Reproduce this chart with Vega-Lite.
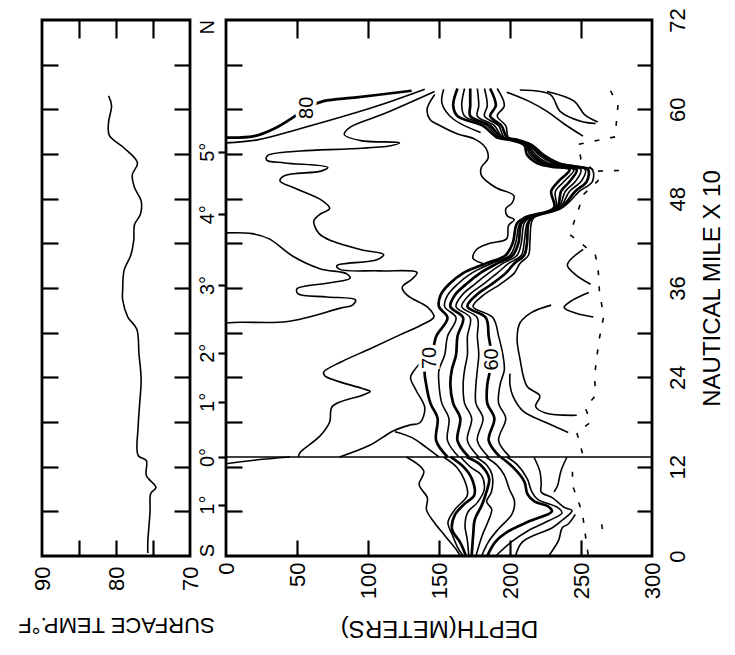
{
  "$schema": "https://vega.github.io/schema/vega-lite/v6.json",
  "background": "white",
  "padding": {"left": 16, "top": 6, "right": 5, "bottom": 5},
  "bounds": "flush",
  "spacing": 36,
  "config": {
    "view": {"stroke": "black", "strokeWidth": 2.8},
    "font": "Liberation Sans",
    "axis": {"grid": false, "domain": false, "tickColor": "black", "tickWidth": 2.2, "labelColor": "black", "titleColor": "black", "labelFontSize": 22, "titleFontSize": 24, "titleFontWeight": "normal", "labelFont": "Liberation Sans", "titleFont": "Liberation Sans", "labelOverlap": false, "labelFlush": false}
  },
  "datasets": {
    "sst": [
      {"temp": 81.0, "mile": 61.8}, {"temp": 80.6, "mile": 60.5}, {"temp": 81.0, "mile": 58.3}, {"temp": 80.9, "mile": 56.5},
      {"temp": 78.9, "mile": 54.8}, {"temp": 77.1, "mile": 52.8}, {"temp": 77.8, "mile": 51.2}, {"temp": 77.5, "mile": 49.5},
      {"temp": 76.6, "mile": 47.7}, {"temp": 76.7, "mile": 45.9}, {"temp": 77.5, "mile": 44.5}, {"temp": 77.6, "mile": 42.4},
      {"temp": 78.0, "mile": 40.4}, {"temp": 78.9, "mile": 38.4}, {"temp": 79.1, "mile": 35.7}, {"temp": 79.1, "mile": 34.4},
      {"temp": 78.4, "mile": 32.1}, {"temp": 77.2, "mile": 30.5}, {"temp": 76.9, "mile": 27.2}, {"temp": 76.6, "mile": 23.7},
      {"temp": 76.8, "mile": 20.5}, {"temp": 77.0, "mile": 17.5}, {"temp": 77.0, "mile": 13.5}, {"temp": 75.9, "mile": 12.8},
      {"temp": 75.9, "mile": 10.8}, {"temp": 74.6, "mile": 9.2}, {"temp": 75.3, "mile": 8.4}, {"temp": 75.4, "mile": 5.9},
      {"temp": 75.7, "mile": 1.9}, {"temp": 75.7, "mile": 0.4}
    ],
    "labels": [
      {"label": "80", "d": 57, "m": 60.2},
      {"label": "70", "d": 144, "m": 26.6},
      {"label": "60", "d": 187, "m": 26.4}
    ],
    "iso": [
      {"s": "ZERO", "t": "section", "d": 0, "m": 13.3}, {"s": "ZERO", "t": "section", "d": 300, "m": 13.3},

      {"s": "N1", "t": "major", "d": 0, "m": 56.2}, {"s": "N1", "t": "major", "d": 19.8, "m": 56.4}, {"s": "N1", "t": "major", "d": 33.8, "m": 57.4}, {"s": "N1", "t": "major", "d": 47.8, "m": 59.0}, {"s": "N1", "t": "major", "d": 56.8, "m": 60.2}, {"s": "N1", "t": "major", "d": 68.7, "m": 61.1}, {"s": "N1", "t": "major", "d": 92, "m": 61.6}, {"s": "N1", "t": "major", "d": 130.7, "m": 62.5},

      {"s": "N2", "t": "minor", "d": 0, "m": 55.5}, {"s": "N2", "t": "minor", "d": 22, "m": 55.9}, {"s": "N2", "t": "minor", "d": 52, "m": 57.4}, {"s": "N2", "t": "minor", "d": 87, "m": 59.3}, {"s": "N2", "t": "minor", "d": 115, "m": 61.0}, {"s": "N2", "t": "minor", "d": 140, "m": 62.7},

      {"s": "M", "t": "minor", "d": 146.9, "m": 62.4}, {"s": "M", "t": "minor", "d": 111.2, "m": 59.4}, {"s": "M", "t": "minor", "d": 87.5, "m": 57.6}, {"s": "M", "t": "minor", "d": 83.3, "m": 56.6}, {"s": "M", "t": "minor", "d": 94.7, "m": 55.8}, {"s": "M", "t": "minor", "d": 122.2, "m": 55.5}, {"s": "M", "t": "minor", "d": 115.9, "m": 55.1}, {"s": "M", "t": "minor", "d": 87.8, "m": 54.7}, {"s": "M", "t": "minor", "d": 52.5, "m": 54.4}, {"s": "M", "t": "minor", "d": 29.3, "m": 53.8}, {"s": "M", "t": "minor", "d": 28.6, "m": 53.2}, {"s": "M", "t": "minor", "d": 41.3, "m": 52.8}, {"s": "M", "t": "minor", "d": 71.7, "m": 52.2}, {"s": "M", "t": "minor", "d": 66.9, "m": 51.7}, {"s": "M", "t": "minor", "d": 41.5, "m": 51.1}, {"s": "M", "t": "minor", "d": 38, "m": 50.4}, {"s": "M", "t": "minor", "d": 48.7, "m": 49.4}, {"s": "M", "t": "minor", "d": 67.3, "m": 47.8}, {"s": "M", "t": "minor", "d": 73, "m": 46.7}, {"s": "M", "t": "minor", "d": 65.4, "m": 45.8}, {"s": "M", "t": "minor", "d": 61.8, "m": 45.0}, {"s": "M", "t": "minor", "d": 65.6, "m": 43.3}, {"s": "M", "t": "minor", "d": 74.8, "m": 42.3}, {"s": "M", "t": "minor", "d": 96.1, "m": 41.1}, {"s": "M", "t": "minor", "d": 111, "m": 40.5}, {"s": "M", "t": "minor", "d": 106.2, "m": 39.8}, {"s": "M", "t": "minor", "d": 78, "m": 39.0}, {"s": "M", "t": "minor", "d": 80.2, "m": 38.5}, {"s": "M", "t": "minor", "d": 108.4, "m": 38.3}, {"s": "M", "t": "minor", "d": 134.5, "m": 38.1}, {"s": "M", "t": "minor", "d": 131.1, "m": 37.2}, {"s": "M", "t": "minor", "d": 124.1, "m": 36.1}, {"s": "M", "t": "minor", "d": 127.8, "m": 35.0}, {"s": "M", "t": "minor", "d": 142.1, "m": 33.4}, {"s": "M", "t": "minor", "d": 146.4, "m": 32.1}, {"s": "M", "t": "minor", "d": 137.3, "m": 31.0}, {"s": "M", "t": "minor", "d": 121.3, "m": 29.6}, {"s": "M", "t": "minor", "d": 102.3, "m": 27.9}, {"s": "M", "t": "minor", "d": 81.4, "m": 26.1}, {"s": "M", "t": "minor", "d": 68.8, "m": 24.7}, {"s": "M", "t": "minor", "d": 69.6, "m": 24.2}, {"s": "M", "t": "minor", "d": 95.9, "m": 22.5}, {"s": "M", "t": "minor", "d": 101.5, "m": 22.1}, {"s": "M", "t": "minor", "d": 96, "m": 21.6}, {"s": "M", "t": "minor", "d": 74.9, "m": 20.1}, {"s": "M", "t": "minor", "d": 73, "m": 18.0}, {"s": "M", "t": "minor", "d": 66.1, "m": 16.1}, {"s": "M", "t": "minor", "d": 52.2, "m": 13.9}, {"s": "M", "t": "minor", "d": 51, "m": 13.3},

      {"s": "L4", "t": "minor", "d": 0, "m": 43.4}, {"s": "L4", "t": "minor", "d": 18.3, "m": 43.3}, {"s": "L4", "t": "minor", "d": 30.4, "m": 42.6}, {"s": "L4", "t": "minor", "d": 46.8, "m": 40.3}, {"s": "L4", "t": "minor", "d": 66.1, "m": 38.6}, {"s": "L4", "t": "minor", "d": 85.1, "m": 37.9}, {"s": "L4", "t": "minor", "d": 87.3, "m": 37.3}, {"s": "L4", "t": "minor", "d": 73.3, "m": 36.7}, {"s": "L4", "t": "minor", "d": 50, "m": 35.9}, {"s": "L4", "t": "minor", "d": 50.8, "m": 35.2}, {"s": "L4", "t": "minor", "d": 71.3, "m": 34.8}, {"s": "L4", "t": "minor", "d": 91.2, "m": 34.4}, {"s": "L4", "t": "minor", "d": 89.1, "m": 33.7}, {"s": "L4", "t": "minor", "d": 80.7, "m": 33.3}, {"s": "L4", "t": "minor", "d": 43.5, "m": 31.5}, {"s": "L4", "t": "minor", "d": 10.3, "m": 31.4}, {"s": "L4", "t": "minor", "d": 0, "m": 31.3},

      {"s": "L6", "t": "minor", "d": 80, "m": 13.3}, {"s": "L6", "t": "minor", "d": 101.5, "m": 14.9}, {"s": "L6", "t": "minor", "d": 117.7, "m": 16.8}, {"s": "L6", "t": "minor", "d": 129.6, "m": 17.6}, {"s": "L6", "t": "minor", "d": 136.5, "m": 17.9}, {"s": "L6", "t": "minor", "d": 140, "m": 19.9}, {"s": "L6", "t": "minor", "d": 134, "m": 22.2}, {"s": "L6", "t": "minor", "d": 130, "m": 24.0}, {"s": "L6", "t": "minor", "d": 134, "m": 25.3}, {"s": "L6", "t": "minor", "d": 137, "m": 26.0}, {"s": "L6", "t": "minor", "d": 141, "m": 27.5},

      {"s": "L7", "t": "minor", "d": 150, "m": 13.3}, {"s": "L7", "t": "minor", "d": 141, "m": 14.6}, {"s": "L7", "t": "minor", "d": 131, "m": 15.9}, {"s": "L7", "t": "minor", "d": 119, "m": 16.7},

      {"s": "S0", "t": "minor", "d": 0, "m": 12.4}, {"s": "S0", "t": "minor", "d": 21, "m": 12.9}, {"s": "S0", "t": "minor", "d": 45, "m": 13.3},

      {"s": "C0", "t": "minor", "d": 153.3, "m": 62.7}, {"s": "C0", "t": "minor", "d": 152.1, "m": 60.8}, {"s": "C0", "t": "minor", "d": 160, "m": 58.7}, {"s": "C0", "t": "minor", "d": 179.3, "m": 56.9},

      {"s": "C1", "t": "minor", "d": 147, "m": 62.0}, {"s": "C1", "t": "minor", "d": 141.6, "m": 60.0}, {"s": "C1", "t": "minor", "d": 143.8, "m": 58.6}, {"s": "C1", "t": "minor", "d": 148.8, "m": 58.0}, {"s": "C1", "t": "minor", "d": 163.1, "m": 56.7}, {"s": "C1", "t": "minor", "d": 175.2, "m": 56.0}, {"s": "C1", "t": "minor", "d": 183, "m": 54.8}, {"s": "C1", "t": "minor", "d": 184.5, "m": 53.4}, {"s": "C1", "t": "minor", "d": 179.8, "m": 52.2}, {"s": "C1", "t": "minor", "d": 179.9, "m": 51.1}, {"s": "C1", "t": "minor", "d": 189.9, "m": 49.5}, {"s": "C1", "t": "minor", "d": 202.7, "m": 48.4}, {"s": "C1", "t": "minor", "d": 201.4, "m": 47.4}, {"s": "C1", "t": "minor", "d": 197.2, "m": 46.7}, {"s": "C1", "t": "minor", "d": 198, "m": 45.7}, {"s": "C1", "t": "minor", "d": 203, "m": 45.2}, {"s": "C1", "t": "minor", "d": 199, "m": 44.4}, {"s": "C1", "t": "minor", "d": 197.6, "m": 42.6}, {"s": "C1", "t": "minor", "d": 185.7, "m": 42.0}, {"s": "C1", "t": "minor", "d": 176.6, "m": 41.2}, {"s": "C1", "t": "minor", "d": 173.9, "m": 40.0}, {"s": "C1", "t": "minor", "d": 181, "m": 39.3},

      {"s": "B1", "t": "major", "d": 156, "m": 13.3}, {"s": "B1", "t": "major", "d": 148, "m": 15.5}, {"s": "B1", "t": "major", "d": 149, "m": 18.5}, {"s": "B1", "t": "major", "d": 144, "m": 20.5}, {"s": "B1", "t": "major", "d": 141, "m": 23}, {"s": "B1", "t": "major", "d": 140, "m": 25}, {"s": "B1", "t": "major", "d": 145, "m": 27}, {"s": "B1", "t": "major", "d": 148, "m": 29.5}, {"s": "B1", "t": "major", "d": 156, "m": 32}, {"s": "B1", "t": "major", "d": 150, "m": 33.5}, {"s": "B1", "t": "major", "d": 151, "m": 35}, {"s": "B1", "t": "major", "d": 157, "m": 36.5}, {"s": "B1", "t": "major", "d": 167, "m": 38}, {"s": "B1", "t": "major", "d": 183, "m": 39.3}, {"s": "B1", "t": "major", "d": 197, "m": 40.4}, {"s": "B1", "t": "major", "d": 202, "m": 42.1}, {"s": "B1", "t": "major", "d": 205, "m": 44.7}, {"s": "B1", "t": "major", "d": 211, "m": 45.5}, {"s": "B1", "t": "major", "d": 231, "m": 46.8}, {"s": "B1", "t": "major", "d": 229, "m": 49}, {"s": "B1", "t": "major", "d": 234, "m": 50.3}, {"s": "B1", "t": "major", "d": 242, "m": 51.9}, {"s": "B1", "t": "major", "d": 229, "m": 52.3}, {"s": "B1", "t": "major", "d": 219, "m": 52.8}, {"s": "B1", "t": "major", "d": 212, "m": 53.9}, {"s": "B1", "t": "major", "d": 210, "m": 55.2}, {"s": "B1", "t": "major", "d": 200, "m": 55.9}, {"s": "B1", "t": "major", "d": 191, "m": 56.2}, {"s": "B1", "t": "major", "d": 181, "m": 57.8}, {"s": "B1", "t": "major", "d": 163, "m": 59.1}, {"s": "B1", "t": "major", "d": 160, "m": 60.5}, {"s": "B1", "t": "major", "d": 163, "m": 62.8},

      {"s": "B2", "t": "minor", "d": 164, "m": 13.3}, {"s": "B2", "t": "minor", "d": 156, "m": 15.5}, {"s": "B2", "t": "minor", "d": 157, "m": 18.5}, {"s": "B2", "t": "minor", "d": 152, "m": 20.5}, {"s": "B2", "t": "minor", "d": 150, "m": 23}, {"s": "B2", "t": "minor", "d": 150, "m": 25}, {"s": "B2", "t": "minor", "d": 154, "m": 27}, {"s": "B2", "t": "minor", "d": 156, "m": 29.5}, {"s": "B2", "t": "minor", "d": 162, "m": 32}, {"s": "B2", "t": "minor", "d": 154, "m": 33.5}, {"s": "B2", "t": "minor", "d": 156, "m": 35}, {"s": "B2", "t": "minor", "d": 163, "m": 36.5}, {"s": "B2", "t": "minor", "d": 173, "m": 38}, {"s": "B2", "t": "minor", "d": 187, "m": 39.3}, {"s": "B2", "t": "minor", "d": 200, "m": 40.4}, {"s": "B2", "t": "minor", "d": 204, "m": 42.1}, {"s": "B2", "t": "minor", "d": 207, "m": 44.7}, {"s": "B2", "t": "minor", "d": 212, "m": 45.5}, {"s": "B2", "t": "minor", "d": 232, "m": 46.8}, {"s": "B2", "t": "minor", "d": 232, "m": 49}, {"s": "B2", "t": "minor", "d": 238, "m": 50.3}, {"s": "B2", "t": "minor", "d": 245, "m": 51.9}, {"s": "B2", "t": "minor", "d": 232, "m": 52.3}, {"s": "B2", "t": "minor", "d": 222, "m": 52.8}, {"s": "B2", "t": "minor", "d": 214, "m": 53.9}, {"s": "B2", "t": "minor", "d": 211, "m": 55.2}, {"s": "B2", "t": "minor", "d": 201, "m": 55.9}, {"s": "B2", "t": "minor", "d": 192, "m": 56.2}, {"s": "B2", "t": "minor", "d": 184, "m": 57.8}, {"s": "B2", "t": "minor", "d": 168, "m": 59.1}, {"s": "B2", "t": "minor", "d": 166, "m": 60.5}, {"s": "B2", "t": "minor", "d": 168, "m": 62.8},

      {"s": "B3", "t": "major", "d": 171, "m": 13.3}, {"s": "B3", "t": "major", "d": 163, "m": 15.5}, {"s": "B3", "t": "major", "d": 165, "m": 18.5}, {"s": "B3", "t": "major", "d": 160, "m": 20.5}, {"s": "B3", "t": "major", "d": 158, "m": 23}, {"s": "B3", "t": "major", "d": 159, "m": 25}, {"s": "B3", "t": "major", "d": 162, "m": 27}, {"s": "B3", "t": "major", "d": 163, "m": 29.5}, {"s": "B3", "t": "major", "d": 167, "m": 32}, {"s": "B3", "t": "major", "d": 158, "m": 33.5}, {"s": "B3", "t": "major", "d": 161, "m": 35}, {"s": "B3", "t": "major", "d": 169, "m": 36.5}, {"s": "B3", "t": "major", "d": 179, "m": 38}, {"s": "B3", "t": "major", "d": 191, "m": 39.3}, {"s": "B3", "t": "major", "d": 202, "m": 40.4}, {"s": "B3", "t": "major", "d": 206, "m": 42.1}, {"s": "B3", "t": "major", "d": 208, "m": 44.7}, {"s": "B3", "t": "major", "d": 213, "m": 45.5}, {"s": "B3", "t": "major", "d": 233, "m": 46.8}, {"s": "B3", "t": "major", "d": 236, "m": 49}, {"s": "B3", "t": "major", "d": 242, "m": 50.3}, {"s": "B3", "t": "major", "d": 247, "m": 51.9}, {"s": "B3", "t": "major", "d": 236, "m": 52.3}, {"s": "B3", "t": "major", "d": 224, "m": 52.8}, {"s": "B3", "t": "major", "d": 216, "m": 53.9}, {"s": "B3", "t": "major", "d": 212, "m": 55.2}, {"s": "B3", "t": "major", "d": 202, "m": 55.9}, {"s": "B3", "t": "major", "d": 194, "m": 56.2}, {"s": "B3", "t": "major", "d": 186, "m": 57.8}, {"s": "B3", "t": "major", "d": 172, "m": 59.1}, {"s": "B3", "t": "major", "d": 172, "m": 60.5}, {"s": "B3", "t": "major", "d": 172, "m": 62.8},

      {"s": "B4", "t": "minor", "d": 178, "m": 13.3}, {"s": "B4", "t": "minor", "d": 170, "m": 15.5}, {"s": "B4", "t": "minor", "d": 173, "m": 18.5}, {"s": "B4", "t": "minor", "d": 168, "m": 20.5}, {"s": "B4", "t": "minor", "d": 167, "m": 23}, {"s": "B4", "t": "minor", "d": 168, "m": 25}, {"s": "B4", "t": "minor", "d": 170, "m": 27}, {"s": "B4", "t": "minor", "d": 170, "m": 29.5}, {"s": "B4", "t": "minor", "d": 172, "m": 32}, {"s": "B4", "t": "minor", "d": 162, "m": 33.5}, {"s": "B4", "t": "minor", "d": 166, "m": 35}, {"s": "B4", "t": "minor", "d": 175, "m": 36.5}, {"s": "B4", "t": "minor", "d": 185, "m": 38}, {"s": "B4", "t": "minor", "d": 195, "m": 39.3}, {"s": "B4", "t": "minor", "d": 205, "m": 40.4}, {"s": "B4", "t": "minor", "d": 208, "m": 42.1}, {"s": "B4", "t": "minor", "d": 210, "m": 44.7}, {"s": "B4", "t": "minor", "d": 214, "m": 45.5}, {"s": "B4", "t": "minor", "d": 234, "m": 46.8}, {"s": "B4", "t": "minor", "d": 239, "m": 49}, {"s": "B4", "t": "minor", "d": 246, "m": 50.3}, {"s": "B4", "t": "minor", "d": 250, "m": 51.9}, {"s": "B4", "t": "minor", "d": 239, "m": 52.3}, {"s": "B4", "t": "minor", "d": 227, "m": 52.8}, {"s": "B4", "t": "minor", "d": 218, "m": 53.9}, {"s": "B4", "t": "minor", "d": 213, "m": 55.2}, {"s": "B4", "t": "minor", "d": 203, "m": 55.9}, {"s": "B4", "t": "minor", "d": 195, "m": 56.2}, {"s": "B4", "t": "minor", "d": 189, "m": 57.8}, {"s": "B4", "t": "minor", "d": 177, "m": 59.1}, {"s": "B4", "t": "minor", "d": 178, "m": 60.5}, {"s": "B4", "t": "minor", "d": 177, "m": 62.8},

      {"s": "B5", "t": "minor", "d": 185, "m": 13.3}, {"s": "B5", "t": "minor", "d": 177, "m": 15.5}, {"s": "B5", "t": "minor", "d": 181, "m": 18.5}, {"s": "B5", "t": "minor", "d": 176, "m": 20.5}, {"s": "B5", "t": "minor", "d": 176, "m": 23}, {"s": "B5", "t": "minor", "d": 177, "m": 25}, {"s": "B5", "t": "minor", "d": 178, "m": 27}, {"s": "B5", "t": "minor", "d": 177, "m": 29.5}, {"s": "B5", "t": "minor", "d": 177, "m": 32}, {"s": "B5", "t": "minor", "d": 166, "m": 33.5}, {"s": "B5", "t": "minor", "d": 171, "m": 35}, {"s": "B5", "t": "minor", "d": 181, "m": 36.5}, {"s": "B5", "t": "minor", "d": 191, "m": 38}, {"s": "B5", "t": "minor", "d": 199, "m": 39.3}, {"s": "B5", "t": "minor", "d": 208, "m": 40.4}, {"s": "B5", "t": "minor", "d": 210, "m": 42.1}, {"s": "B5", "t": "minor", "d": 212, "m": 44.7}, {"s": "B5", "t": "minor", "d": 215, "m": 45.5}, {"s": "B5", "t": "minor", "d": 235, "m": 46.8}, {"s": "B5", "t": "minor", "d": 242, "m": 49}, {"s": "B5", "t": "minor", "d": 250, "m": 50.3}, {"s": "B5", "t": "minor", "d": 253, "m": 51.9}, {"s": "B5", "t": "minor", "d": 242, "m": 52.3}, {"s": "B5", "t": "minor", "d": 230, "m": 52.8}, {"s": "B5", "t": "minor", "d": 220, "m": 53.9}, {"s": "B5", "t": "minor", "d": 214, "m": 55.2}, {"s": "B5", "t": "minor", "d": 204, "m": 55.9}, {"s": "B5", "t": "minor", "d": 196, "m": 56.2}, {"s": "B5", "t": "minor", "d": 192, "m": 57.8}, {"s": "B5", "t": "minor", "d": 182, "m": 59.1}, {"s": "B5", "t": "minor", "d": 184, "m": 60.5}, {"s": "B5", "t": "minor", "d": 182, "m": 62.8},

      {"s": "B6", "t": "major", "d": 193, "m": 13.3}, {"s": "B6", "t": "major", "d": 185, "m": 15.5}, {"s": "B6", "t": "major", "d": 189, "m": 18.5}, {"s": "B6", "t": "major", "d": 184, "m": 20.5}, {"s": "B6", "t": "major", "d": 184, "m": 23}, {"s": "B6", "t": "major", "d": 186, "m": 25}, {"s": "B6", "t": "major", "d": 187, "m": 27}, {"s": "B6", "t": "major", "d": 185, "m": 29.5}, {"s": "B6", "t": "major", "d": 183, "m": 32}, {"s": "B6", "t": "major", "d": 170, "m": 33.5}, {"s": "B6", "t": "major", "d": 176, "m": 35}, {"s": "B6", "t": "major", "d": 187, "m": 36.5}, {"s": "B6", "t": "major", "d": 197, "m": 38}, {"s": "B6", "t": "major", "d": 203, "m": 39.3}, {"s": "B6", "t": "major", "d": 210, "m": 40.4}, {"s": "B6", "t": "major", "d": 212, "m": 42.1}, {"s": "B6", "t": "major", "d": 213, "m": 44.7}, {"s": "B6", "t": "major", "d": 216, "m": 45.5}, {"s": "B6", "t": "major", "d": 236, "m": 46.8}, {"s": "B6", "t": "major", "d": 246, "m": 49}, {"s": "B6", "t": "major", "d": 254, "m": 50.3}, {"s": "B6", "t": "major", "d": 255, "m": 51.9}, {"s": "B6", "t": "major", "d": 246, "m": 52.3}, {"s": "B6", "t": "major", "d": 232, "m": 52.8}, {"s": "B6", "t": "major", "d": 222, "m": 53.9}, {"s": "B6", "t": "major", "d": 215, "m": 55.2}, {"s": "B6", "t": "major", "d": 205, "m": 55.9}, {"s": "B6", "t": "major", "d": 198, "m": 56.2}, {"s": "B6", "t": "major", "d": 194, "m": 57.8}, {"s": "B6", "t": "major", "d": 186, "m": 59.1}, {"s": "B6", "t": "major", "d": 190, "m": 60.5}, {"s": "B6", "t": "major", "d": 186, "m": 62.8},

      {"s": "B7", "t": "minor", "d": 200, "m": 13.3}, {"s": "B7", "t": "minor", "d": 192, "m": 15.5}, {"s": "B7", "t": "minor", "d": 197, "m": 18.5}, {"s": "B7", "t": "minor", "d": 192, "m": 20.5}, {"s": "B7", "t": "minor", "d": 193, "m": 23}, {"s": "B7", "t": "minor", "d": 196, "m": 25}, {"s": "B7", "t": "minor", "d": 195, "m": 27}, {"s": "B7", "t": "minor", "d": 192, "m": 29.5}, {"s": "B7", "t": "minor", "d": 188, "m": 32}, {"s": "B7", "t": "minor", "d": 174, "m": 33.5}, {"s": "B7", "t": "minor", "d": 181, "m": 35}, {"s": "B7", "t": "minor", "d": 193, "m": 36.5}, {"s": "B7", "t": "minor", "d": 203, "m": 38}, {"s": "B7", "t": "minor", "d": 207, "m": 39.3}, {"s": "B7", "t": "minor", "d": 213, "m": 40.4}, {"s": "B7", "t": "minor", "d": 214, "m": 42.1}, {"s": "B7", "t": "minor", "d": 215, "m": 44.7}, {"s": "B7", "t": "minor", "d": 217, "m": 45.5}, {"s": "B7", "t": "minor", "d": 237, "m": 46.8}, {"s": "B7", "t": "minor", "d": 249, "m": 49}, {"s": "B7", "t": "minor", "d": 258, "m": 50.3}, {"s": "B7", "t": "minor", "d": 258, "m": 51.9}, {"s": "B7", "t": "minor", "d": 249, "m": 52.3}, {"s": "B7", "t": "minor", "d": 235, "m": 52.8}, {"s": "B7", "t": "minor", "d": 224, "m": 53.9}, {"s": "B7", "t": "minor", "d": 216, "m": 55.2}, {"s": "B7", "t": "minor", "d": 206, "m": 55.9}, {"s": "B7", "t": "minor", "d": 199, "m": 56.2}, {"s": "B7", "t": "minor", "d": 197, "m": 57.8}, {"s": "B7", "t": "minor", "d": 191, "m": 59.1}, {"s": "B7", "t": "minor", "d": 196, "m": 60.5}, {"s": "B7", "t": "minor", "d": 191, "m": 62.8},

      {"s": "NO1", "t": "minor", "d": 206.9, "m": 62.6}, {"s": "NO1", "t": "minor", "d": 228.2, "m": 62.0}, {"s": "NO1", "t": "minor", "d": 235.5, "m": 59.7}, {"s": "NO1", "t": "minor", "d": 249.8, "m": 58.4}, {"s": "NO1", "t": "minor", "d": 260.3, "m": 58.1},
      {"s": "NO2", "t": "minor", "d": 226, "m": 62.4}, {"s": "NO2", "t": "minor", "d": 245.2, "m": 61.1}, {"s": "NO2", "t": "minor", "d": 252.5, "m": 59.3}, {"s": "NO2", "t": "minor", "d": 261.8, "m": 58.3},
      {"s": "NO3", "t": "minor", "d": 197.7, "m": 62.3}, {"s": "NO3", "t": "minor", "d": 214.2, "m": 61.0}, {"s": "NO3", "t": "minor", "d": 226.3, "m": 59.7}, {"s": "NO3", "t": "minor", "d": 238.5, "m": 58.0}, {"s": "NO3", "t": "minor", "d": 251.4, "m": 56.4},

      {"s": "R1", "t": "minor", "d": 229, "m": 33.7}, {"s": "R1", "t": "minor", "d": 215, "m": 32.7}, {"s": "R1", "t": "minor", "d": 207, "m": 31.3}, {"s": "R1", "t": "minor", "d": 205, "m": 29.2}, {"s": "R1", "t": "minor", "d": 207, "m": 26.5}, {"s": "R1", "t": "minor", "d": 212, "m": 22.8}, {"s": "R1", "t": "minor", "d": 221, "m": 21.5}, {"s": "R1", "t": "minor", "d": 218, "m": 20.1}, {"s": "R1", "t": "minor", "d": 225, "m": 19.2}, {"s": "R1", "t": "minor", "d": 247, "m": 18.9},
      {"s": "R2", "t": "minor", "d": 200, "m": 24.5}, {"s": "R2", "t": "minor", "d": 200, "m": 23.0}, {"s": "R2", "t": "minor", "d": 202, "m": 21.5}, {"s": "R2", "t": "minor", "d": 209, "m": 19.5}, {"s": "R2", "t": "minor", "d": 227, "m": 17.8}, {"s": "R2", "t": "minor", "d": 241, "m": 16.6},
      {"s": "R3", "t": "minor", "d": 251.5, "m": 41.2}, {"s": "R3", "t": "minor", "d": 240.4, "m": 39.1}, {"s": "R3", "t": "minor", "d": 246.1, "m": 37.8}, {"s": "R3", "t": "minor", "d": 256.8, "m": 36.5},
      {"s": "R4", "t": "minor", "d": 255.5, "m": 35.4}, {"s": "R4", "t": "minor", "d": 244.3, "m": 34.4}, {"s": "R4", "t": "minor", "d": 238.1, "m": 33.4}, {"s": "R4", "t": "minor", "d": 246.6, "m": 32.6}, {"s": "R4", "t": "minor", "d": 258.7, "m": 32.1},

      {"s": "S1", "t": "minor", "d": 127, "m": 13.3}, {"s": "S1", "t": "minor", "d": 139.3, "m": 11.4}, {"s": "S1", "t": "minor", "d": 136, "m": 9.6}, {"s": "S1", "t": "minor", "d": 141.8, "m": 7.8}, {"s": "S1", "t": "minor", "d": 141.2, "m": 6.2}, {"s": "S1", "t": "minor", "d": 147.1, "m": 4.4}, {"s": "S1", "t": "minor", "d": 154.3, "m": 2.7}, {"s": "S1", "t": "minor", "d": 162, "m": 0.9}, {"s": "S1", "t": "minor", "d": 165, "m": 0},
      {"s": "S2", "t": "minor", "d": 153.2, "m": 13.3}, {"s": "S2", "t": "minor", "d": 162.6, "m": 11.9}, {"s": "S2", "t": "minor", "d": 167.7, "m": 10.3}, {"s": "S2", "t": "minor", "d": 170, "m": 8.2}, {"s": "S2", "t": "minor", "d": 161, "m": 6.2}, {"s": "S2", "t": "minor", "d": 156.3, "m": 4.5}, {"s": "S2", "t": "minor", "d": 159.5, "m": 2.8}, {"s": "S2", "t": "minor", "d": 163, "m": 1.2}, {"s": "S2", "t": "minor", "d": 167, "m": 0},
      {"s": "S3", "t": "major", "d": 158.2, "m": 13.3}, {"s": "S3", "t": "major", "d": 167.6, "m": 11.9}, {"s": "S3", "t": "major", "d": 173.3, "m": 10.3}, {"s": "S3", "t": "major", "d": 174.9, "m": 8.2}, {"s": "S3", "t": "major", "d": 168, "m": 7.0}, {"s": "S3", "t": "major", "d": 161.1, "m": 5.5}, {"s": "S3", "t": "major", "d": 159.2, "m": 3.6}, {"s": "S3", "t": "major", "d": 165, "m": 1.8}, {"s": "S3", "t": "major", "d": 169, "m": 0},
      {"s": "S4", "t": "minor", "d": 165.2, "m": 13.3}, {"s": "S4", "t": "minor", "d": 172.5, "m": 11.9}, {"s": "S4", "t": "minor", "d": 179.7, "m": 10.9}, {"s": "S4", "t": "minor", "d": 181.9, "m": 9.0}, {"s": "S4", "t": "minor", "d": 177.1, "m": 7.2}, {"s": "S4", "t": "minor", "d": 170.3, "m": 5.9}, {"s": "S4", "t": "minor", "d": 168.3, "m": 4.1}, {"s": "S4", "t": "minor", "d": 169.9, "m": 2.2}, {"s": "S4", "t": "minor", "d": 171, "m": 0},
      {"s": "S5", "t": "major", "d": 169.5, "m": 13.3}, {"s": "S5", "t": "major", "d": 179.5, "m": 12.2}, {"s": "S5", "t": "major", "d": 185.3, "m": 10.4}, {"s": "S5", "t": "major", "d": 183.4, "m": 8.6}, {"s": "S5", "t": "major", "d": 180.1, "m": 6.8}, {"s": "S5", "t": "major", "d": 175.2, "m": 4.9}, {"s": "S5", "t": "major", "d": 174.1, "m": 2.9}, {"s": "S5", "t": "major", "d": 173, "m": 0},
      {"s": "S6", "t": "minor", "d": 175.8, "m": 13.3}, {"s": "S6", "t": "minor", "d": 183.7, "m": 12.2}, {"s": "S6", "t": "minor", "d": 187.4, "m": 10.9}, {"s": "S6", "t": "minor", "d": 186.9, "m": 8.6}, {"s": "S6", "t": "minor", "d": 183.5, "m": 7.3}, {"s": "S6", "t": "minor", "d": 187.1, "m": 6.3}, {"s": "S6", "t": "minor", "d": 184.5, "m": 4.6}, {"s": "S6", "t": "minor", "d": 180.5, "m": 2.8}, {"s": "S6", "t": "minor", "d": 176, "m": 0},
      {"s": "S7", "t": "minor", "d": 182.9, "m": 13.3}, {"s": "S7", "t": "minor", "d": 190.8, "m": 12.2}, {"s": "S7", "t": "minor", "d": 195.9, "m": 10.9}, {"s": "S7", "t": "minor", "d": 199.5, "m": 9.0}, {"s": "S7", "t": "minor", "d": 203.2, "m": 7.3}, {"s": "S7", "t": "minor", "d": 201.3, "m": 5.6}, {"s": "S7", "t": "minor", "d": 191.7, "m": 3.6}, {"s": "S7", "t": "minor", "d": 184.8, "m": 1.9}, {"s": "S7", "t": "minor", "d": 180, "m": 0},
      {"s": "S8", "t": "major", "d": 193.5, "m": 13.3}, {"s": "S8", "t": "major", "d": 202.8, "m": 11.8}, {"s": "S8", "t": "major", "d": 210.1, "m": 10.0}, {"s": "S8", "t": "major", "d": 212.3, "m": 8.3}, {"s": "S8", "t": "major", "d": 217.4, "m": 7.3}, {"s": "S8", "t": "major", "d": 226.6, "m": 6.7}, {"s": "S8", "t": "major", "d": 229.5, "m": 6.0}, {"s": "S8", "t": "major", "d": 212.7, "m": 4.6}, {"s": "S8", "t": "major", "d": 198.7, "m": 3.3}, {"s": "S8", "t": "major", "d": 189.7, "m": 1.9}, {"s": "S8", "t": "major", "d": 184, "m": 0},
      {"s": "S9", "t": "minor", "d": 197.7, "m": 13.3}, {"s": "S9", "t": "minor", "d": 204.9, "m": 12.3}, {"s": "S9", "t": "minor", "d": 212.1, "m": 10.4}, {"s": "S9", "t": "minor", "d": 215.2, "m": 8.7}, {"s": "S9", "t": "minor", "d": 219.5, "m": 7.6}, {"s": "S9", "t": "minor", "d": 233.7, "m": 6.5}, {"s": "S9", "t": "minor", "d": 236.6, "m": 5.8}, {"s": "S9", "t": "minor", "d": 226.8, "m": 4.7}, {"s": "S9", "t": "minor", "d": 212.8, "m": 3.4}, {"s": "S9", "t": "minor", "d": 201.7, "m": 2.0}, {"s": "S9", "t": "minor", "d": 190, "m": 0},
      {"s": "S10", "t": "minor", "d": 216.8, "m": 13.3}, {"s": "S10", "t": "minor", "d": 221, "m": 11.4}, {"s": "S10", "t": "minor", "d": 222, "m": 9.7}, {"s": "S10", "t": "minor", "d": 222, "m": 8.6}, {"s": "S10", "t": "minor", "d": 230, "m": 7.8}, {"s": "S10", "t": "minor", "d": 238.6, "m": 6.5}, {"s": "S10", "t": "minor", "d": 243.7, "m": 6.1}, {"s": "S10", "t": "minor", "d": 236.7, "m": 4.8}, {"s": "S10", "t": "minor", "d": 229.8, "m": 3.8}, {"s": "S10", "t": "minor", "d": 208.8, "m": 1.9}, {"s": "S10", "t": "minor", "d": 203.9, "m": 0},
      {"s": "S11", "t": "minor", "d": 240.2, "m": 13.3}, {"s": "S11", "t": "minor", "d": 236, "m": 11.5}, {"s": "S11", "t": "minor", "d": 233.4, "m": 9.4}, {"s": "S11", "t": "minor", "d": 231, "m": 8.6},
      {"s": "S12", "t": "minor", "d": 246, "m": 5.6}, {"s": "S12", "t": "minor", "d": 241, "m": 4.3}, {"s": "S12", "t": "minor", "d": 236.8, "m": 3.8}, {"s": "S12", "t": "minor", "d": 234.2, "m": 2.1}, {"s": "S12", "t": "minor", "d": 227.2, "m": 0},

      {"s": "DN", "t": "bottom", "d": 270, "m": 62.8}, {"s": "DN", "t": "bottom", "d": 276, "m": 60.5}, {"s": "DN", "t": "bottom", "d": 274, "m": 56.3}, {"s": "DN", "t": "bottom", "d": 248, "m": 55.3}, {"s": "DN", "t": "bottom", "d": 250, "m": 53.3}, {"s": "DN", "t": "bottom", "d": 260, "m": 51.6}, {"s": "DN", "t": "bottom", "d": 262, "m": 50.4}, {"s": "DN", "t": "bottom", "d": 252, "m": 48.6}, {"s": "DN", "t": "bottom", "d": 242, "m": 43.2}, {"s": "DN", "t": "bottom", "d": 260, "m": 40.5}, {"s": "DN", "t": "bottom", "d": 262, "m": 38.8}, {"s": "DN", "t": "bottom", "d": 263, "m": 35.5}, {"s": "DN", "t": "bottom", "d": 266, "m": 32.2}, {"s": "DN", "t": "bottom", "d": 262.5, "m": 28.8}, {"s": "DN", "t": "bottom", "d": 259.5, "m": 24.1}, {"s": "DN", "t": "bottom", "d": 260.4, "m": 21.6}, {"s": "DN", "t": "bottom", "d": 253, "m": 19.9}, {"s": "DN", "t": "bottom", "d": 257, "m": 18.0}, {"s": "DN", "t": "bottom", "d": 247, "m": 16.6}, {"s": "DN", "t": "bottom", "d": 251, "m": 13.8},
      {"s": "DOT", "t": "bottom", "d": 262, "m": 51.7}, {"s": "DOT", "t": "bottom", "d": 271, "m": 51.75}, {"s": "DOT", "t": "bottom", "d": 281, "m": 51.8},
      {"s": "DS", "t": "bottom", "d": 244, "m": 12.5}, {"s": "DS", "t": "bottom", "d": 244, "m": 9.5}, {"s": "DS", "t": "bottom", "d": 251, "m": 5.8}, {"s": "DS", "t": "bottom", "d": 254, "m": 1.5}, {"s": "DS", "t": "bottom", "d": 255, "m": 0.2},
      {"s": "DS2", "t": "bottom", "d": 264, "m": 5.2}, {"s": "DS2", "t": "bottom", "d": 265, "m": 3.6}
    ]
  },
  "hconcat": [
    {
      "width": 148,
      "height": 536,
      "data": {"name": "sst"},
      "layer": [
        {
          "mark": {"type": "line", "interpolate": "catmull-rom", "color": "black", "strokeWidth": 1.6},
          "encoding": {
            "x": {"field": "temp", "type": "quantitative", "scale": {"domain": [70, 90], "reverse": true, "nice": false, "zero": false},
              "axis": {"orient": "bottom", "values": [70, 75, 80, 85, 90], "labelExpr": "datum.value % 10 == 0 ? datum.label : ''", "tickSize": -16, "tickOpacity": {"condition": {"test": "datum.value == 70 || datum.value == 90", "value": 0}, "value": 1}, "labelAngle": -90, "labelPadding": 26, "title": "SURFACE TEMP.°F", "titleAngle": 180, "titleBaseline": "bottom", "titleFontSize": 22, "titlePadding": 22}},
            "y": {"field": "mile", "type": "quantitative", "scale": {"domain": [0, 72], "nice": false, "zero": false},
              "axis": {"orient": "left", "values": [6, 12, 18, 24, 30, 36, 42, 48, 54, 60, 66], "tickSize": -16, "labels": false, "title": null}},
            "order": {"field": "mile", "type": "quantitative"}
          }
        },
        {
          "mark": {"type": "line", "strokeOpacity": 0},
          "encoding": {
            "x": {"field": "temp", "type": "quantitative", "scale": {"domain": [70, 90], "reverse": true, "nice": false, "zero": false},
              "axis": {"orient": "top", "values": [75, 80, 85], "tickSize": -18, "labels": false, "title": null}},
            "y": {"field": "mile", "type": "quantitative", "scale": {"domain": [0, 72], "nice": false, "zero": false},
              "axis": {"orient": "right", "values": [6, 12, 18, 24, 30, 36, 42, 48, 54, 60, 66], "tickSize": -16, "labels": false, "title": null}},
            "order": {"field": "mile", "type": "quantitative"}
          }
        }
      ],
      "resolve": {"axis": {"x": "independent", "y": "independent"}}
    },
    {
      "width": 426,
      "height": 536,
      "layer": [
        {
          "data": {"name": "iso"},
          "transform": [{"filter": "datum.t == 'minor'"}],
          "mark": {"type": "line", "interpolate": "catmull-rom", "color": "black", "strokeWidth": 1.6},
          "encoding": {
            "x": {"field": "d", "type": "quantitative", "scale": {"domain": [0, 300], "nice": false, "zero": false},
              "axis": {"orient": "bottom", "values": [0, 50, 100, 150, 200, 250, 300], "tickSize": -16, "tickOpacity": {"condition": {"test": "datum.value == 0 || datum.value == 300", "value": 0}, "value": 1}, "labelAngle": -90, "labelPadding": 22, "title": "DEPTH(METERS)", "titleAngle": 180, "titleBaseline": "bottom", "titlePadding": 17}},
            "y": {"field": "m", "type": "quantitative", "scale": {"domain": [0, 72], "nice": false, "zero": false},
              "axis": {"orient": "left", "values": [0.8, 6.9, 13.3, 20.7, 27.3, 36.4, 45.9, 54.3, 71.1], "labelExpr": "datum.value < 1 ? 'S' : datum.value < 7 ? '1°' : datum.value < 14 ? '0°' : datum.value < 21 ? '1°' : datum.value < 28 ? '2°' : datum.value < 37 ? '3°' : datum.value < 46 ? '4°' : datum.value < 55 ? '5°' : 'N'", "tickSize": 8, "tickOpacity": {"condition": {"test": "datum.value < 1 || datum.value > 71", "value": 0}, "value": 1}, "labelAngle": -90, "labelPadding": 1, "labelFontSize": 20, "title": null}},
            "detail": {"field": "s"},
            "order": {"field": "m", "type": "quantitative"}
          }
        },
        {
          "data": {"name": "iso"},
          "transform": [{"filter": "datum.t == 'major'"}],
          "mark": {"type": "line", "interpolate": "catmull-rom", "color": "black", "strokeWidth": 2.7},
          "encoding": {
            "x": {"field": "d", "type": "quantitative", "scale": {"domain": [0, 300], "nice": false, "zero": false},
              "axis": {"orient": "top", "values": [50, 100, 150, 200, 250], "tickSize": -18, "labels": false, "title": null}},
            "y": {"field": "m", "type": "quantitative", "scale": {"domain": [0, 72], "nice": false, "zero": false},
              "axis": {"orient": "right", "values": [0, 6, 12, 18, 24, 30, 36, 42, 48, 54, 60, 66, 72], "labelExpr": "datum.value % 12 == 0 ? datum.label : ''", "tickSize": -15, "tickOpacity": {"condition": {"test": "datum.value == 0 || datum.value == 72", "value": 0}, "value": 1}, "labelAngle": -90, "labelPadding": 30, "title": "NAUTICAL MILE X 10", "titleAngle": -90, "titleBaseline": "top", "titlePadding": 12}},
            "detail": {"field": "s"},
            "order": {"field": "m", "type": "quantitative"}
          }
        },
        {
          "data": {"name": "iso"},
          "transform": [{"filter": "datum.t == 'section'"}],
          "mark": {"type": "line", "color": "black", "strokeWidth": 1.6},
          "encoding": {
            "x": {"field": "d", "type": "quantitative", "scale": {"domain": [0, 300], "nice": false, "zero": false}, "axis": null},
            "y": {"field": "m", "type": "quantitative", "scale": {"domain": [0, 72], "nice": false, "zero": false},
              "axis": {"orient": "left", "values": [6, 12, 18, 24, 30, 36, 42, 48, 54, 60, 66], "tickSize": -16, "labels": false, "title": null}},
            "detail": {"field": "s"},
            "order": {"field": "d", "type": "quantitative"}
          }
        },
        {
          "data": {"name": "iso"},
          "transform": [{"filter": "datum.t == 'bottom'"}],
          "mark": {"type": "line", "color": "black", "strokeWidth": 1.6, "strokeDash": [5, 11]},
          "encoding": {
            "x": {"field": "d", "type": "quantitative", "scale": {"domain": [0, 300], "nice": false, "zero": false}, "axis": null},
            "y": {"field": "m", "type": "quantitative", "scale": {"domain": [0, 72], "nice": false, "zero": false}, "axis": null},
            "detail": {"field": "s"},
            "order": {"field": "m", "type": "quantitative"}
          }
        },
        {
          "data": {"name": "labels"},
          "mark": {"type": "text", "angle": 270, "fontSize": 20, "font": "Liberation Sans", "stroke": "white", "strokeWidth": 7, "fill": "white"},
          "encoding": {
            "x": {"field": "d", "type": "quantitative", "scale": {"domain": [0, 300], "nice": false, "zero": false}, "axis": null},
            "y": {"field": "m", "type": "quantitative", "scale": {"domain": [0, 72], "nice": false, "zero": false}, "axis": null},
            "text": {"field": "label"}
          }
        },
        {
          "data": {"name": "labels"},
          "mark": {"type": "text", "angle": 270, "fontSize": 20, "font": "Liberation Sans", "fill": "black"},
          "encoding": {
            "x": {"field": "d", "type": "quantitative", "scale": {"domain": [0, 300], "nice": false, "zero": false}, "axis": null},
            "y": {"field": "m", "type": "quantitative", "scale": {"domain": [0, 72], "nice": false, "zero": false}, "axis": null},
            "text": {"field": "label"}
          }
        }
      ],
      "resolve": {"axis": {"x": "independent", "y": "independent"}}
    }
  ]
}
